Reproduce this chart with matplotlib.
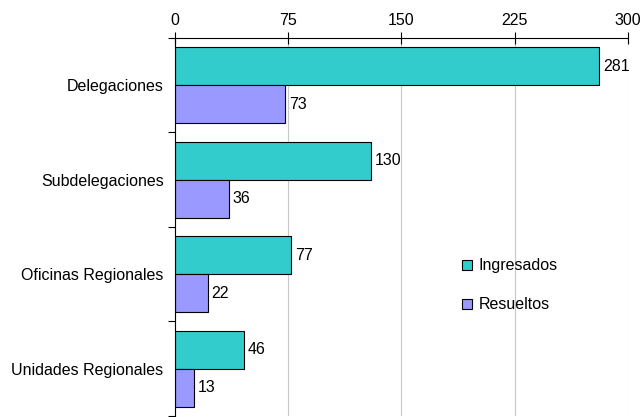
import matplotlib
matplotlib.use("Agg")
import matplotlib.pyplot as plt
import numpy as np

plt.rcParams['font.family'] = ['Liberation Sans', 'DejaVu Sans']

categorias = ["Delegaciones", "Subdelegaciones", "Oficinas Regionales", "Unidades Regionales"]
ingresados = [281, 130, 77, 46]
resueltos = [73, 36, 22, 13]
ticks_x = [0, 75, 150, 225, 300]

fs = 11.5
fig = plt.figure(figsize=(6.4, 4.17), dpi=100)
ax = fig.add_axes([0.273, 0.0024, 0.708, 0.9066])

y = np.arange(len(categorias))
h = 0.40
b1 = ax.barh(y - h / 2, ingresados, height=h, color="#33CCCC", edgecolor="black", linewidth=0.8, label="Ingresados")
b2 = ax.barh(y + h / 2, resueltos, height=h, color="#9999FF", edgecolor="black", linewidth=0.8, label="Resueltos")

for bars, vals in [(b1, ingresados), (b2, resueltos)]:
    for r, v in zip(bars, vals):
        ax.text(r.get_width() + 2.5, r.get_y() + r.get_height() / 2, str(v),
                va="center", ha="left", fontsize=fs)

ax.set_xlim(0, 300)
ax.set_ylim(3.5, -0.5)
ax.xaxis.tick_top()
ax.set_xticks(ticks_x)
ax.set_xticklabels([str(t) for t in ticks_x], fontsize=fs)
ax.tick_params(axis="x", direction="inout", length=8, width=0.8, pad=3)
ax.grid(axis="x", color="#c8c8c8", linewidth=0.8)
ax.set_axisbelow(True)

ax.set_yticks(y)
ax.set_yticklabels(categorias, fontsize=fs)
ax.tick_params(axis="y", length=0, pad=8)
ax.set_yticks(np.arange(-0.5, 4.0, 1.0), minor=True)
ax.tick_params(axis="y", which="minor", direction="out", length=5, width=0.8)

ax.spines["right"].set_visible(False)
ax.spines["bottom"].set_visible(False)
ax.spines["top"].set_linewidth(0.8)
ax.spines["left"].set_linewidth(0.8)

ax.legend(loc="upper left", bbox_to_anchor=(0.603, 0.455), frameon=False, fontsize=fs,
          handlelength=0.6, handleheight=0.6, handletextpad=0.4, labelspacing=1.5)

fig.savefig("out.png", dpi=100)
